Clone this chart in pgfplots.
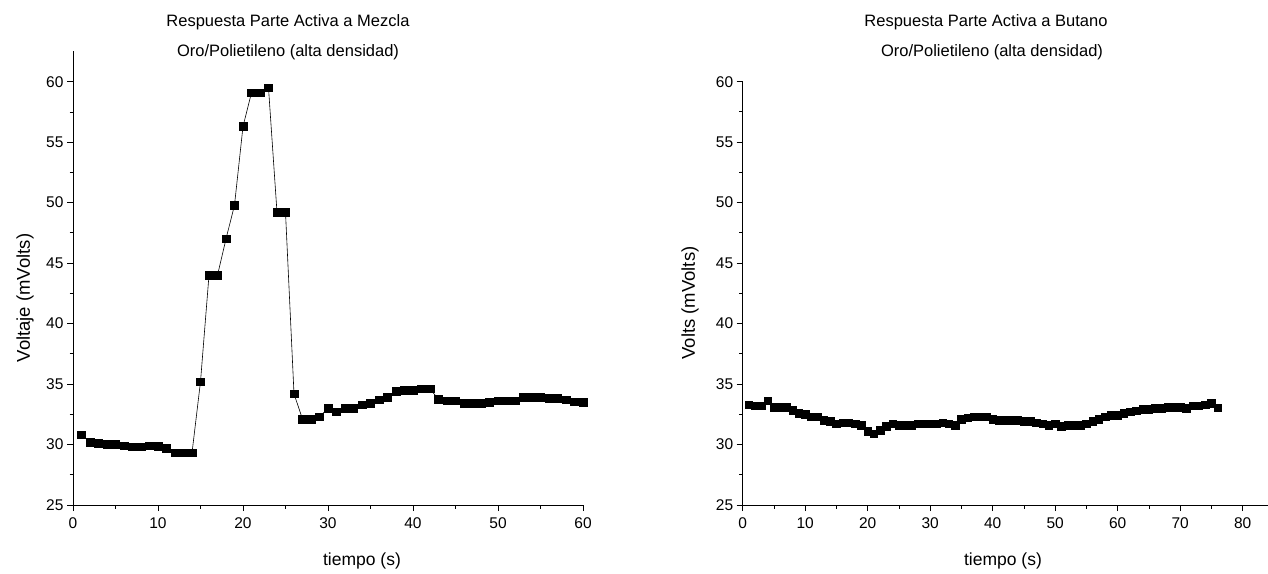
\documentclass[border=0pt]{standalone}
\usepackage{fontspec}
\setmainfont{Liberation Sans}
\usepackage{pgfplots}
\pgfplotsset{compat=1.18}
\usepackage{pgfplotstable}

\pgfplotstableread{
x y
1 30.8
2 30.2
3 30.1
4 30.0
5 30.0
6 29.9
7 29.8
8 29.8
9 29.9
10 29.85
11 29.7
12 29.3
13 29.3
14 29.3
15 35.2
16 44.0
17 44.0
18 47.0
19 49.8
20 56.3
21 59.1
22 59.1
23 59.5
24 49.2
25 49.2
26 34.2
27 32.1
28 32.1
29 32.3
30 33.0
31 32.7
32 33.0
33 33.0
34 33.3
35 33.4
36 33.7
37 33.9
38 34.4
39 34.5
40 34.5
41 34.6
42 34.6
43 33.75
44 33.6
45 33.6
46 33.4
47 33.4
48 33.4
49 33.5
50 33.6
51 33.6
52 33.6
53 33.9
54 33.9
55 33.9
56 33.8
57 33.8
58 33.7
59 33.55
60 33.5
}\mezcla

\pgfplotstableread{
x y
1 33.3
2 33.2
3 33.2
4 33.6
5 33.1
6 33.1
7 33.1
8 32.85
9 32.6
10 32.5
11 32.3
12 32.3
13 32.0
14 31.9
15 31.7
16 31.8
17 31.8
18 31.7
19 31.6
20 31.1
21 30.9
22 31.2
23 31.5
24 31.7
25 31.6
26 31.6
27 31.6
28 31.7
29 31.7
30 31.7
31 31.7
32 31.8
33 31.7
34 31.6
35 32.1
36 32.2
37 32.3
38 32.3
39 32.3
40 32.1
41 32.0
42 32.0
43 32.0
44 32.0
45 31.9
46 31.9
47 31.8
48 31.7
49 31.6
50 31.7
51 31.5
52 31.6
53 31.6
54 31.6
55 31.7
56 31.9
57 32.1
58 32.3
59 32.4
60 32.4
61 32.6
62 32.7
63 32.8
64 32.9
65 32.9
66 33.0
67 33.0
68 33.1
69 33.1
70 33.1
71 33.0
72 33.2
73 33.2
74 33.3
75 33.4
76 33.05
}\butano

\pgfplotsset{
  myaxis/.style={
    scale only axis,
    anchor=south west,
    axis x line*=bottom,
    axis y line*=left,
    axis line style={-, line width=1pt},
    tick align=outside,
    tick style={black, line width=0.9pt},
    major tick length=6pt,
    minor tick length=3.5pt,
    minor x tick num=1,
    minor y tick num=1,
    ymin=25,
    ytick={25,30,...,60},
    tick label style={font=\fontsize{15.5}{18}\selectfont},
    xticklabel style={yshift=-3pt},
    /pgf/number format/assume math mode=true,
    clip=false,
  },
  myplot/.style={black, line width=0.6pt, mark=square*, mark size=3.8pt,
    mark options={solid, fill=black}},
}

\begin{document}
\begin{tikzpicture}
\useasboundingbox (0,0) rectangle (1268pt,573pt);
% left axis
\begin{axis}[myaxis,
  at={(73pt,68pt)},
  width=510pt, height=453.5pt,
  xmin=0, xmax=60, ymax=62.5,
  xtick={0,10,...,60},
]
\addplot[myplot] table[x=x,y=y] {\mezcla};
\end{axis}
% right axis
\begin{axis}[myaxis,
  at={(742.7pt,68pt)},
  width=531.25pt, height=423.3pt,
  xmin=0, xmax=85, ymax=60,
  xtick={0,10,...,80},
]
\addplot[myplot] table[x=x,y=y] {\butano};
\end{axis}
% titles and labels
\begin{scope}[every node/.style={font=\fontsize{16.5}{20}\selectfont, inner sep=0pt}]
\node at (288pt,{573pt-22pt}) {Respuesta Parte Activa a Mezcla};
\node at (288pt,{573pt-52pt}) {Oro/Polietileno (alta densidad)};
\node at (986pt,{573pt-22pt}) {Respuesta Parte Activa a Butano};
\node at (992pt,{573pt-52pt}) {Oro/Polietileno (alta densidad)};
\end{scope}
\begin{scope}[every node/.style={font=\fontsize{17.5}{20}\selectfont, inner sep=0pt}]
\node at (362pt,{573pt-561pt}) {tiempo (s)};
\node at (1003pt,{573pt-561pt}) {tiempo (s)};
\end{scope}
\begin{scope}[every node/.style={font=\fontsize{18.5}{20}\selectfont, inner sep=0pt}]
\node[rotate=90] at (25pt,{573pt-298pt}) {Voltaje (mVolts)};
\node[rotate=90] at (690pt,{573pt-303pt}) {Volts (mVolts)};
\end{scope}
\end{tikzpicture}
\end{document}
